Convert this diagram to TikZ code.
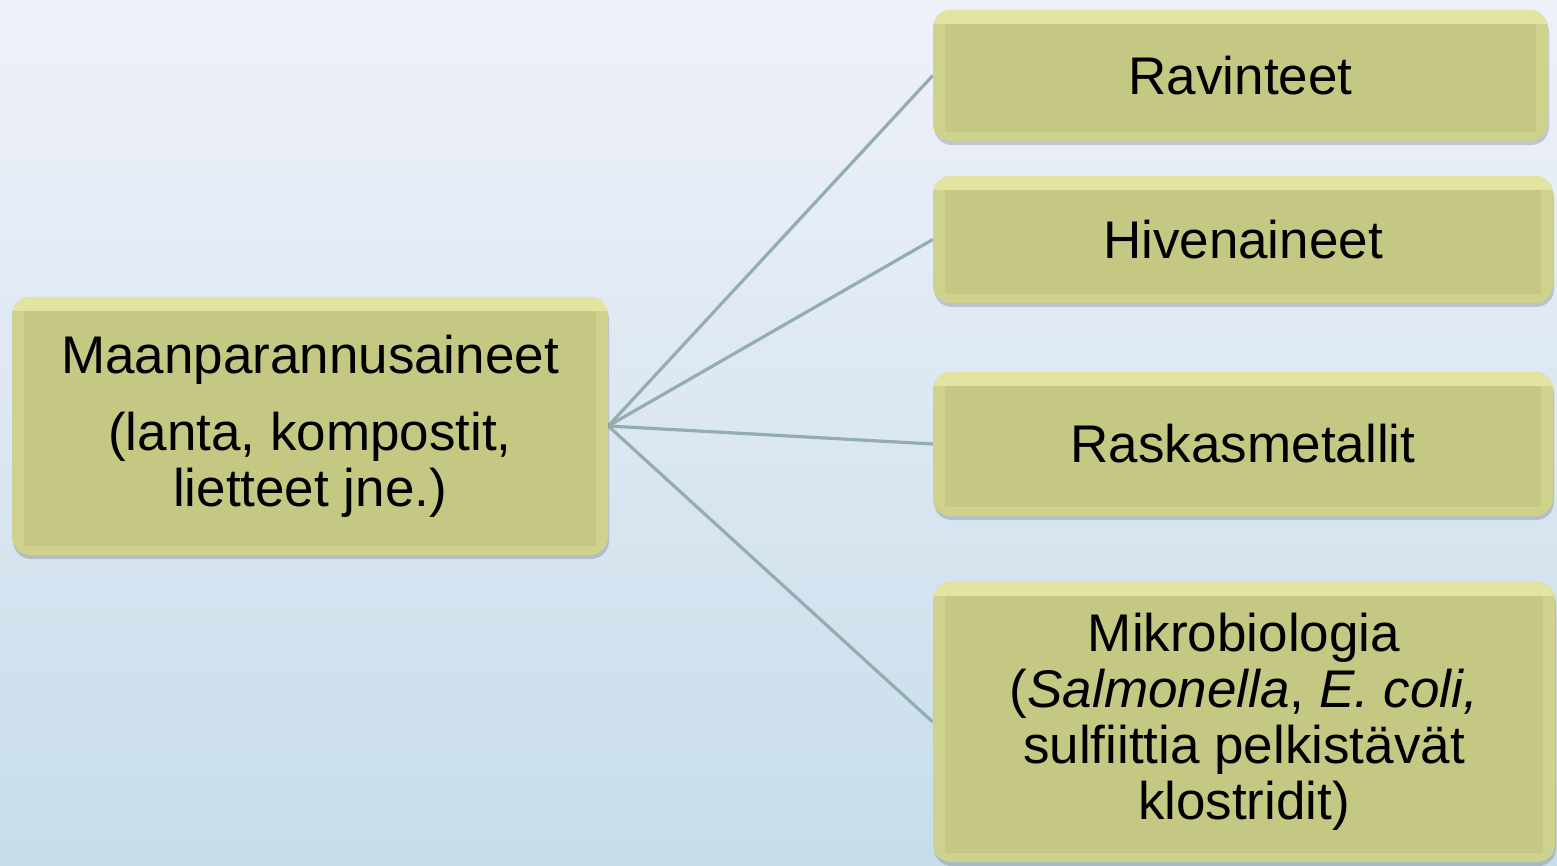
\documentclass[tikz,border=0pt]{standalone}
\usepackage{fontspec}
\setmainfont{Liberation Sans}
\usetikzlibrary{shadows,calc}
\definecolor{bgtop}{RGB}{239,241,249}
\definecolor{bgbot}{RGB}{199,221,234}
\definecolor{boxfill}{RGB}{197,200,130}
\definecolor{boxedge}{RGB}{207,210,140}
\definecolor{boxtop}{RGB}{226,228,162}
\definecolor{linec}{RGB}{146,174,176}
\pgfdeclarelayer{bg}
\pgfdeclarelayer{lines}
\pgfsetlayers{bg,lines,main}
\begin{document}
\begin{tikzpicture}[x=1pt,y=-1pt,
  box/.style={rounded corners=18pt, fill=boxedge, draw=none, inner sep=0pt, align=center,
    font=\fontsize{53}{56}\selectfont,
    drop shadow={shadow xshift=1pt, shadow yshift=-4pt, opacity=0.3, fill=black!60},
    path picture={
      \fill[boxtop, sharp corners] (path picture bounding box.north west) rectangle ($(path picture bounding box.north east)+(0pt,-14pt)$);
      \fill[boxfill, sharp corners] ($(path picture bounding box.north west)+(12pt,-14pt)$) rectangle ($(path picture bounding box.south east)+(-12pt,9pt)$);}},
  conn/.style={draw=linec, line width=3.2pt}]
\useasboundingbox (0,0) rectangle (1557,866);
\begin{pgfonlayer}{bg}
\shade[top color=bgtop, bottom color=bgbot] (0,0) rectangle (1557,866);
\end{pgfonlayer}
\node[box, minimum width=596pt, minimum height=258pt] (L) at (310,426)
  {Maanparannusaineet\\[21pt](lanta, kompostit,\\lietteet jne.)};
\node[box, minimum width=615pt, minimum height=131pt] (R1) at (1240.5,75.5) {Ravinteet};
\node[box, minimum width=620pt, minimum height=127pt] (R2) at (1243,239.5) {Hivenaineet};
\node[box, minimum width=620pt, minimum height=144pt] (R3) at (1243,444) {Raskasmetallit};
\node[box, minimum width=622pt, minimum height=280pt] (R4) at (1244,722)
  {Mikrobiologia\\(\textit{Salmonella}, \textit{E. coli,}\\sulfiittia pelkistävät\\klostridit)};
\begin{pgfonlayer}{lines}
\draw[conn] (L.east) -- (R1.west);
\draw[conn] (L.east) -- (R2.west);
\draw[conn] (L.east) -- (R3.west);
\draw[conn] (L.east) -- (R4.west);
\end{pgfonlayer}
\end{tikzpicture}
\end{document}
